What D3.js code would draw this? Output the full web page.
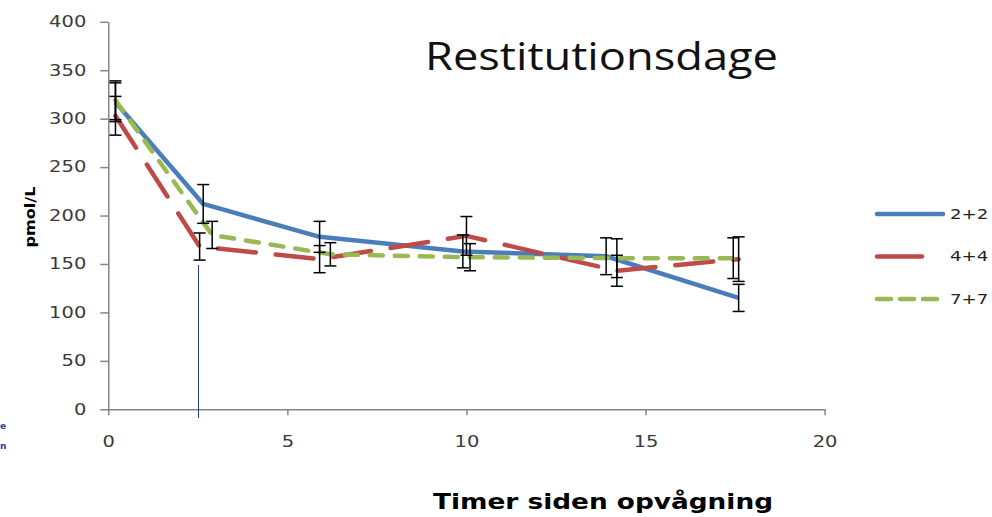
<!DOCTYPE html>
<meta charset="utf-8">
<style>
body { margin: 0; background: #fff; }
.axis path, .axis line { stroke: #868686; stroke-width: 1.5px; }
.axis text { font-family: "DejaVu Sans", Verdana, sans-serif; font-size: 15px; fill: #3a3a3a; }
.series path { fill: none; stroke-width: 4.5px; }
.errs line { stroke: #000; stroke-width: 1.5px; }
</style>
<svg width="992" height="517"></svg>
<script src="https://cdn.jsdelivr.net/npm/d3@7"></script>
<script>

// series names and colours
var names = ["2+2", "4+4", "7+7"];
var colors = ["#4a7ebb", "#be4b48", "#98b954"];

// hours since waking, value (pmol/L), error (+/-)
var xBlue = [0.2, 2.65, 5.9, 9.9, 13.9, 17.6];
var yBlue = [317, 212, 178, 163, 158, 115];
var eBlue = [20, 20, 16, 17, 19, 14];

var xRed = [0.2, 2.55, 5.9, 10.0, 14.2, 17.6];
var yRed = [303, 168, 155, 179, 143, 155];
var eRed = [20, 14, 14, 20, 16, 23];

var xGreen = [0.2, 2.9, 6.2, 10.1, 14.2, 17.45];
var yGreen = [319, 180, 160, 157, 156, 156];
var eGreen = [20, 14, 12, 14, 20, 21];

var xTicks = [0, 5, 10, 15, 20];
var yTicks = [0, 50, 100, 150, 200, 250, 300, 350, 400];

// thin marker line at 2.5 h
var markX = 2.5, markTop = 149, markBottom = -9;

var svg = d3.select("svg");
var K = 1.3; // horizontal stretch of the text in the picture

var x = d3.scaleLinear().domain([0, 20]).range([108.3, 824.6]);
var y = d3.scaleLinear().domain([0, 400]).range([409.3, 21.8]);

var seriesData = [
  {name: names[0], color: colors[0], dash: null, xs: xBlue, ys: yBlue, es: eBlue},
  {name: names[1], color: colors[1], dash: "38,20", xs: xRed, ys: yRed, es: eRed},
  {name: names[2], color: colors[2], dash: "13,12", xs: xGreen, ys: yGreen, es: eGreen}
];

// axes
var yAxis = svg.append("g").attr("class", "axis")
    .attr("transform", "translate(" + x(0) + ",0)")
    .call(d3.axisLeft(y).tickValues(yTicks).tickSize(8).tickSizeOuter(0));
yAxis.selectAll("text").attr("x", -22 / K).attr("transform", "scale(" + K + ",1)");

var xAxis = svg.append("g").attr("class", "axis")
    .attr("transform", "translate(0," + y(0) + ")")
    .call(d3.axisBottom(x).tickValues(xTicks).tickSize(6).tickSizeOuter(0));
xAxis.selectAll("text").attr("y", 38).attr("dy", 0).attr("transform", "scale(" + K + ",1)");

// marker line
svg.append("line")
    .attr("x1", Math.round(x(markX)) + 0.5).attr("x2", Math.round(x(markX)) + 0.5)
    .attr("y1", y(markTop)).attr("y2", y(markBottom))
    .attr("stroke", "#1f3a8f").attr("stroke-width", 1)
    .attr("shape-rendering", "crispEdges");

var line = d3.line().x(function(d) { return x(d[0]); }).y(function(d) { return y(d[1]); });

svg.append("g").attr("class", "series")
  .selectAll("path")
  .data(seriesData)
  .enter().append("path")
    .attr("d", function(s) { return line(s.xs.map(function(v, i) { return [v, s.ys[i]]; })); })
    .attr("stroke", function(s) { return s.color; })
    .attr("stroke-dasharray", function(s) { return s.dash; })
    .attr("stroke-linecap", function(s) { return s.dash ? "round" : "butt"; })
    .attr("stroke-linejoin", "round");

// error bars
var errs = [];
seriesData.forEach(function(s) {
  s.xs.forEach(function(v, i) { errs.push({x: v, y: s.ys[i], e: s.es[i]}); });
});
var eb = svg.append("g").attr("class", "errs").selectAll("g").data(errs).enter().append("g");
eb.append("line")
    .attr("x1", function(d) { return x(d.x); }).attr("x2", function(d) { return x(d.x); })
    .attr("y1", function(d) { return y(d.y - d.e); }).attr("y2", function(d) { return y(d.y + d.e); });
[-1, 1].forEach(function(sg) {
  eb.append("line")
      .attr("x1", function(d) { return x(d.x) - 6; }).attr("x2", function(d) { return x(d.x) + 6; })
      .attr("y1", function(d) { return y(d.y + sg * d.e); }).attr("y2", function(d) { return y(d.y + sg * d.e); });
});

// legend
var leg = svg.append("g").selectAll("g").data(seriesData).enter().append("g")
    .attr("transform", function(d, i) { return "translate(877," + (214 + i * 42.5) + ")"; });
leg.append("line")
    .attr("x1", 0).attr("x2", function(d, i) { return i == 1 ? 45 : 66; })
    .attr("y1", 0).attr("y2", 0)
    .attr("stroke", function(d) { return d.color; })
    .attr("stroke-width", 4.5)
    .attr("stroke-linecap", "round")
    .attr("stroke-dasharray", function(d, i) { return i == 2 ? "14,9" : null; });
leg.append("text")
    .attr("x", 73 / K).attr("y", 0).attr("dy", "0.35em")
    .attr("transform", "scale(" + K + ",1)")
    .style("font-family", "DejaVu Sans, Verdana, sans-serif")
    .style("font-size", "14px").style("fill", "#222")
    .text(function(d) { return d.name; });

// titles
svg.append("text")
    .attr("x", 425).attr("y", 70)
    .attr("textLength", 353).attr("lengthAdjust", "spacingAndGlyphs")
    .style("font-family", "Open Sans, sans-serif").style("font-size", "38px").style("fill", "#111")
    .text("Restitutionsdage");

svg.append("text")
    .attr("x", 433).attr("y", 509)
    .attr("textLength", 340).attr("lengthAdjust", "spacingAndGlyphs")
    .style("font-family", "DejaVu Sans, Verdana, sans-serif").style("font-weight", "bold")
    .style("font-size", "21px").style("fill", "#000")
    .text("Timer siden opvågning");

svg.append("text")
    .attr("transform", "translate(35,217) rotate(-90)")
    .attr("text-anchor", "middle")
    .attr("textLength", 61).attr("lengthAdjust", "spacingAndGlyphs")
    .style("font-family", "DejaVu Sans, Verdana, sans-serif").style("font-weight", "bold")
    .style("font-size", "14px").style("fill", "#000")
    .text("pmol/L");

// slide text fragments at the left edge
svg.append("g").selectAll("text").data(["e", "n"]).enter().append("text")
    .attr("x", 0).attr("y", function(d, i) { return 429 + i * 20; })
    .style("font-family", "DejaVu Sans, sans-serif").style("font-weight", "bold")
    .style("font-size", "9px").style("fill", "#1a3e9b")
    .text(function(d) { return d; });

</script>
